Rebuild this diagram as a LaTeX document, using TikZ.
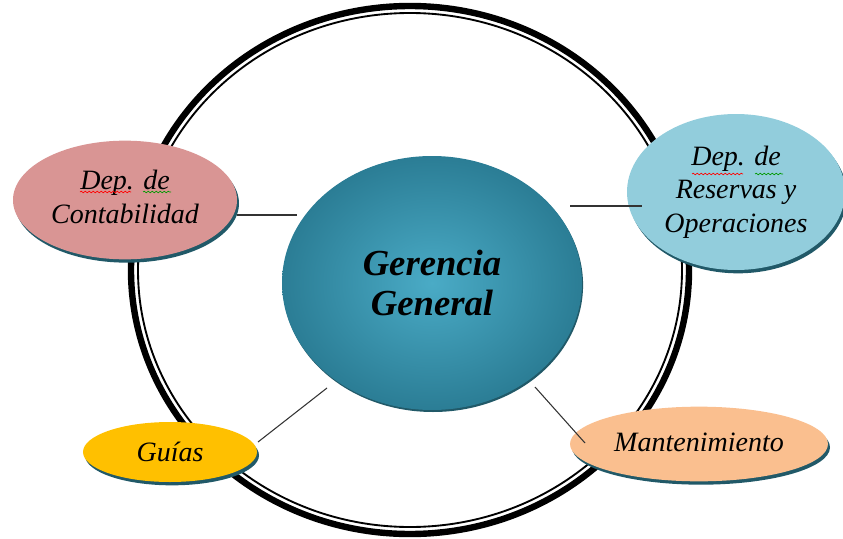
\documentclass[tikz,border=0pt]{standalone}
\usepackage{fontspec}
\setmainfont{Liberation Serif}
\usetikzlibrary{shapes.geometric,shadows,decorations.pathmorphing}
\definecolor{shadowc}{HTML}{215968}
\definecolor{pinkc}{HTML}{D99594}
\definecolor{lbluec}{HTML}{92CDDC}
\definecolor{goldc}{HTML}{FFC000}
\definecolor{peachc}{HTML}{FABF8F}
\definecolor{tealin}{HTML}{4AABC6}
\definecolor{tealout}{HTML}{2B7D95}
\definecolor{linec}{HTML}{333333}
\begin{document}
\begin{tikzpicture}[x=0.75pt,y=-0.75pt,
  bubble/.style={ellipse, inner sep=0pt, align=center,
    font=\fontsize{21}{25.5}\selectfont\itshape,
    drop shadow={shadow xshift=1.5pt, shadow yshift=-2.5pt, fill=shadowc, opacity=1}},
  conn/.style={draw=linec, line width=0.8pt},
  spell/.style={decorate, decoration={snake, amplitude=0.6pt, segment length=3pt}, line width=0.5pt}]
\useasboundingbox (0,0) rectangle (843,539);
% outer ring
\draw[line width=4.8pt] (410,270) ellipse [x radius=279, y radius=264];
\draw[line width=1.4pt] (410,270) ellipse [x radius=272, y radius=257];
% nodes
\node[ellipse, inner sep=0pt, minimum width=225pt, minimum height=190.5pt,
  shading=radial, inner color=tealin, outer color=tealout,
  drop shadow={shadow xshift=0.8pt, shadow yshift=-1.5pt, fill=shadowc, opacity=1},
  align=center, font=\fontsize{27.5}{30}\selectfont\bfseries\itshape]
  (ger) at (432,283) {Gerencia\\General};
\node[bubble, fill=pinkc, minimum width=168pt, minimum height=89pt]
  (con) at (125,200) {};
\node (contxt) at (125,197) [align=center, inner sep=0pt,
  font=\fontsize{21}{25.5}\selectfont\itshape] {Dep. de\\Contabilidad};
\node[bubble, fill=lbluec, minimum width=163.5pt, minimum height=117pt,
  font=\fontsize{21}{25}\selectfont\itshape]
  (res) at (736,192) {Dep. de\\Reservas y\\Operaciones};
\node[bubble, fill=goldc, minimum width=130.5pt, minimum height=45pt]
  (gui) at (170,452) {Guías};
\node[bubble, fill=peachc, minimum width=193.5pt, minimum height=56pt]
  (man) at (699,444) {\raisebox{3pt}{Mantenimiento}};
% connector end points
\coordinate (c1) at (237,215);
\coordinate (g1) at (297,215);
\coordinate (c2) at (570,206);
\coordinate (r2) at (642,206);
\coordinate (c3) at (258,442);
\coordinate (g3) at (327,388);
\coordinate (c4) at (535,387);
\coordinate (m4) at (585,443);
\draw[conn] (c1) -- (g1);
\draw[conn] (c2) -- (r2);
\draw[conn] (c3) -- (g3);
\draw[conn] (c4) -- (m4);
% spell-check marks
\coordinate (u1a) at (80,192);  \coordinate (u1b) at (131,192);
\coordinate (u2a) at (143,192); \coordinate (u2b) at (171,192);
\coordinate (u3a) at (692,174); \coordinate (u3b) at (743,174);
\coordinate (u4a) at (755,174); \coordinate (u4b) at (783,174);
\draw[spell, red] (u1a) -- (u1b);
\draw[spell, green!60!black] (u2a) -- (u2b);
\draw[spell, red] (u3a) -- (u3b);
\draw[spell, green!60!black] (u4a) -- (u4b);
\end{tikzpicture}
\end{document}
